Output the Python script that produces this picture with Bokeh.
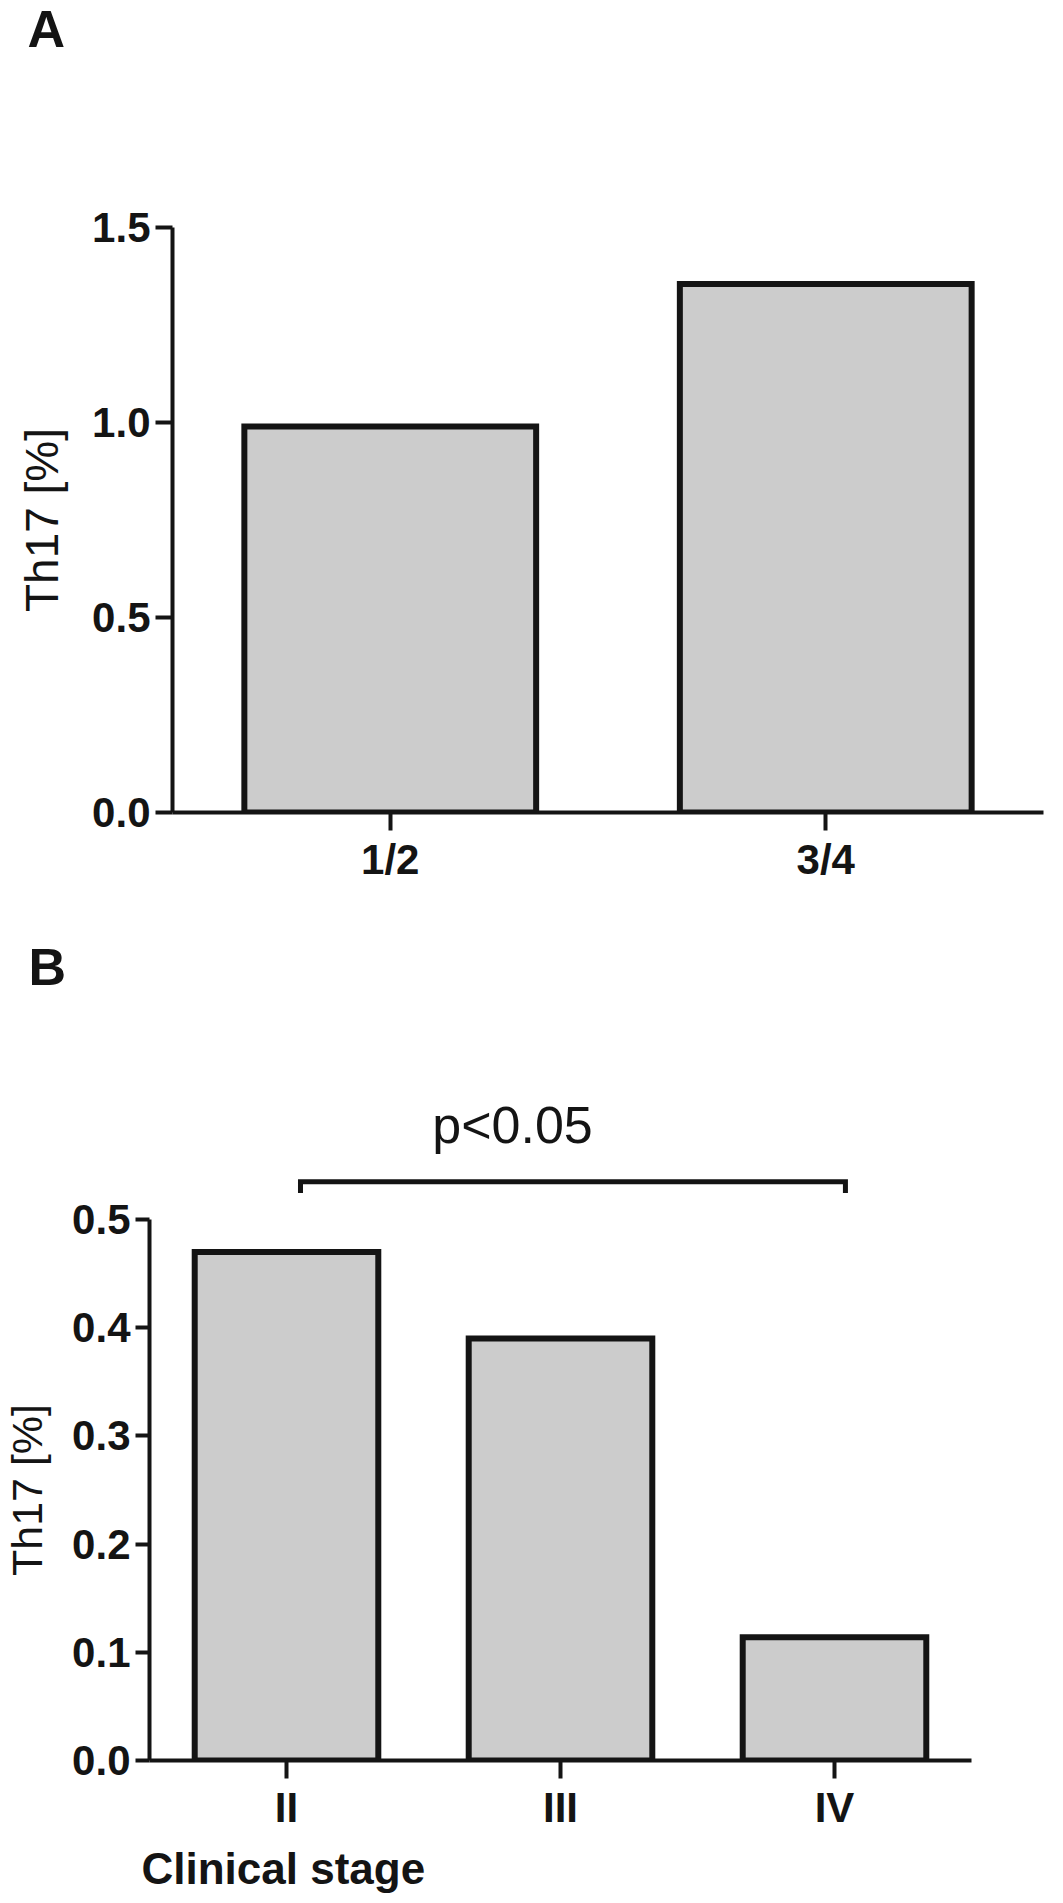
from bokeh.plotting import figure
from bokeh.models import Range1d, FixedTicker, PrintfTickFormatter, Label, ColumnDataSource
from bokeh.layouts import column
from bokeh.embed import file_html
from bokeh.resources import INLINE

# ---------------- data ----------------
# Panel A
stages_a = ["1/2", "3/4"]
th17_a = [0.99, 1.355]
yticks_a = [0.0, 0.5, 1.0, 1.5]

# Panel B
stages_b = ["II", "III", "IV"]
th17_b = [0.47, 0.39, 0.114]
yticks_b = [0.0, 0.1, 0.2, 0.3, 0.4, 0.5]
sig_text = "p<0.05"
sig_pair = ["II", "IV"]

y_label = "Th17 [%]"
x_label_b = "Clinical stage"
panel_tags = ["A", "B"]

# ---------------- style / geometry ----------------
INK = "#141414"
FILL = "#cccccc"
FONT = "Liberation Sans"
W = 1063

# panel A (page pixels)
A_HDR = 200                       # header strip height (holds the "A")
A_FRAME = dict(left=172, right=1043, top=227, bottom=812)
A_END = 908
# panel B
B_HDR_TOP = 908
B_TOP = 1193
B_FRAME = dict(left=147, right=971, top=1219, bottom=1760)
B_END = 1835
FOOT_END = 1900


def blank_fig(h, xr, yr):
    f = figure(width=W, height=h, x_range=xr, y_range=yr,
               output_backend="svg", toolbar_location=None,
               x_axis_location=None, y_axis_location=None,
               min_border_left=0, min_border_right=0, min_border_top=0, min_border_bottom=0,
               frame_align=False)
    f.grid.visible = False
    f.outline_line_color = None
    f.background_fill_color = "white"
    f.border_fill_color = "white"
    return f


def text_label(x, y, text, size, bold=False, align="left", **kw):
    # y is the middle of the capital letters
    return Label(x=x, y=y, text=text, text_font=FONT,
                 text_font_style="bold" if bold else "normal",
                 text_font_size=size, text_color=INK,
                 text_align=align, text_baseline="middle", **kw)


def make_panel(cats, vals, yticks, top, end, frame, ytick_out, ylab_size, ylab_standoff):
    n = len(cats)
    p = figure(width=W, height=end - top,
               x_range=Range1d(0.5, n + 0.5), y_range=Range1d(yticks[0], yticks[-1]),
               output_backend="svg", toolbar_location=None,
               min_border_left=frame["left"], min_border_right=W - frame["right"],
               min_border_top=frame["top"] - top, min_border_bottom=end - frame["bottom"],
               frame_align=False)
    xs = list(range(1, n + 1))
    src = ColumnDataSource(dict(x=xs, top=vals))
    p.vbar(x="x", top="top", bottom=0, width=0.67, source=src,
           fill_color=FILL, line_color=INK, line_width=6, line_join="miter")
    p.grid.visible = False
    p.outline_line_color = None
    p.background_fill_color = "white"
    p.border_fill_color = "white"
    for ax in (p.xaxis[0], p.yaxis[0]):
        ax.axis_line_width = 4
        ax.axis_line_color = INK
        ax.major_tick_line_width = 4
        ax.major_tick_line_color = INK
        ax.major_tick_in = 0
        ax.minor_tick_line_color = None
        ax.major_label_text_font = FONT
        ax.major_label_text_font_style = "bold"
        ax.major_label_text_font_size = "42px"
        ax.major_label_text_color = INK
        ax.major_label_standoff = 5
    p.xaxis.major_tick_out = 18
    p.yaxis.major_tick_out = ytick_out
    p.xaxis.ticker = FixedTicker(ticks=xs)
    p.xaxis.major_label_overrides = {x: c for x, c in zip(xs, cats)}
    p.yaxis.ticker = FixedTicker(ticks=yticks)
    p.yaxis.formatter = PrintfTickFormatter(format="%.1f")
    p.yaxis.axis_label = y_label
    p.yaxis.axis_label_text_font = FONT
    p.yaxis.axis_label_text_font_style = "normal"
    p.yaxis.axis_label_text_font_size = ylab_size
    p.yaxis.axis_label_text_color = INK
    p.yaxis.axis_label_standoff = ylab_standoff
    return p


# ---------------- panel A ----------------
hdrA = blank_fig(A_HDR, Range1d(0, W), Range1d(A_HDR, 0))
hdrA.add_layout(text_label(27, 28, panel_tags[0], "52px", bold=True))

pA = make_panel(stages_a, th17_a, yticks_a, A_HDR, A_END, A_FRAME, 17, "46px", 21)

# ---------------- panel B ----------------
nb = len(stages_b)
ppx = (B_FRAME["right"] - B_FRAME["left"]) / nb                           # pixels per category
ppy = (B_FRAME["bottom"] - B_FRAME["top"]) / (yticks_b[-1] - yticks_b[0])  # pixels per unit


def bx(px):
    return 0.5 + (px - B_FRAME["left"]) / ppx


def by(py):
    return (B_FRAME["bottom"] - py) / ppy


# header strip of panel B shares panel B's data scales (for the bracket)
hdrB = blank_fig(B_TOP - B_HDR_TOP, Range1d(bx(0), bx(W)), Range1d(by(B_TOP), by(B_HDR_TOP)))
hdrB.add_layout(text_label(bx(28), by(966), panel_tags[1], "52px", bold=True))

i0 = stages_b.index(sig_pair[0]) + 1
i1 = stages_b.index(sig_pair[1]) + 1
bx0, bx1 = i0 + 0.057, i1 + 0.041
by_top, by_end = 0.535, 0.518
hdrB.line(x=[bx0, bx0, bx1, bx1], y=[by_end, by_top, by_top, by_end],
          line_width=5, line_color=INK, line_join="miter")
hdrB.add_layout(text_label((bx0 + bx1) / 2 - 0.22, by(1124), sig_text, "52px", align="center"))

pB = make_panel(stages_b, th17_b, yticks_b, B_TOP, B_END, B_FRAME, 14, "43px", 18)

footB = blank_fig(FOOT_END - B_END, Range1d(0, W), Range1d(FOOT_END - B_END, 0))
footB.add_layout(text_label(141, 1868 - B_END, x_label_b, "44px", bold=True))

layout = column(hdrA, pA, hdrB, pB, footB, spacing=0)
open("out.html", "w").write(file_html(layout, INLINE))
